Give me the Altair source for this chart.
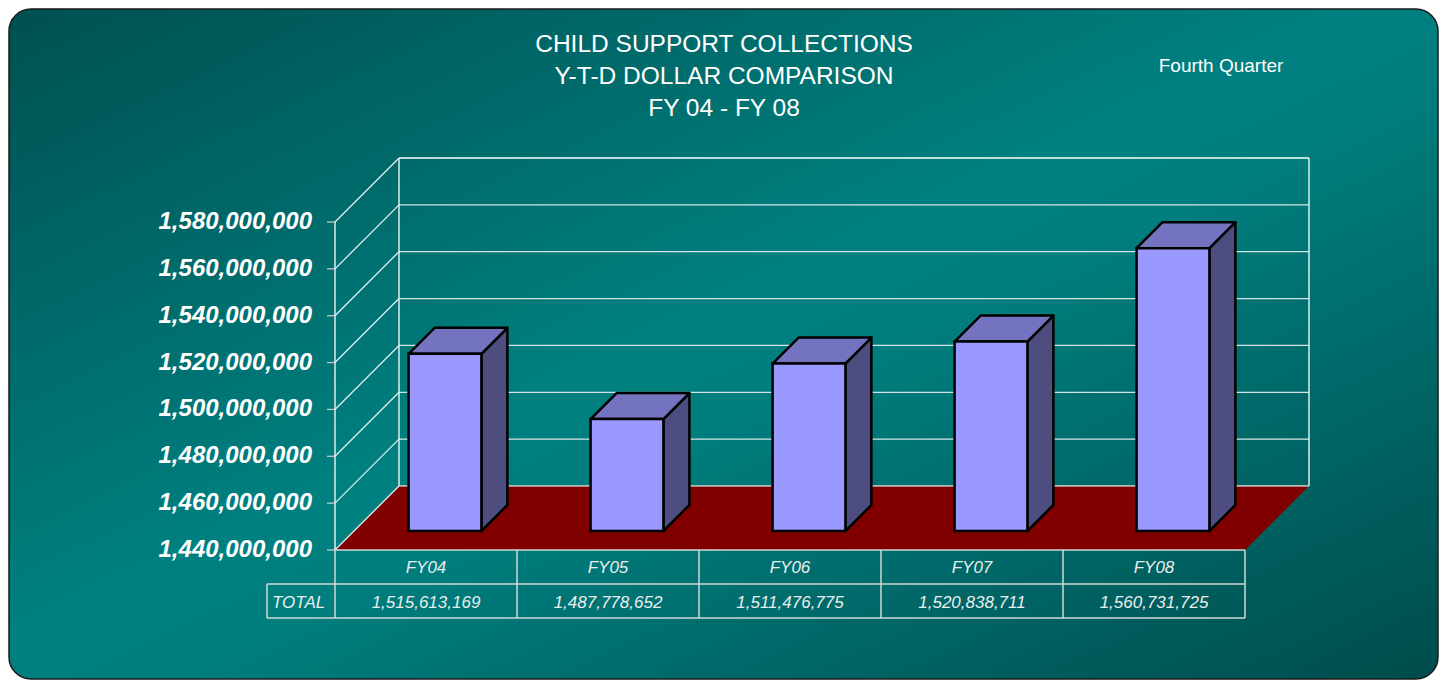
import altair as alt
import pandas as pd

# ---------------- data ----------------
categories = ["FY04", "FY05", "FY06", "FY07", "FY08"]
totals = [1515613169, 1487778652, 1511476775, 1520838711, 1560731725]
tick_values = [1440000000, 1460000000, 1480000000, 1500000000,
               1520000000, 1540000000, 1560000000, 1580000000]
title_lines = ["CHILD SUPPORT COLLECTIONS", "Y-T-D DOLLAR COMPARISON", "FY 04 - FY 08"]
subtitle = "Fourth Quarter"
row_label = "TOTAL"

# ---------------- layout ----------------
W, H = 1431, 672
AX_X = 327          # front-plane left edge (px)
COL_W = 182         # table column width (px)
BASE_Y = 542        # px of lowest tick
TOP_Y = 214         # px of highest tick
Y0, Y1 = tick_values[0], tick_values[-1]
PPD = (BASE_Y - TOP_Y) / (Y1 - Y0)     # px per dollar
DEPTH = 64
DX = DEPTH / COL_W
DY = DEPTH / PPD
BAR_W = 0.40
F0, F1 = 0.297, 0.703
ROW = 34 / PPD
LABEL_COL = 68 / COL_W
N = len(categories)

xs = alt.Scale(domain=[-AX_X / COL_W, (W - AX_X) / COL_W], nice=False, zero=False)
ys = alt.Scale(domain=[Y0 - (H - BASE_Y) / PPD, Y0 + BASE_Y / PPD], nice=False, zero=False)


def X(f):
    return alt.X(f, type="quantitative", scale=xs, axis=None, title=None)


def Y(f):
    return alt.Y(f, type="quantitative", scale=ys, axis=None, title=None, stack=None)


# ---------------- derived frames ----------------
front = pd.DataFrame({
    "cat": categories,
    "x0": [i + 0.5 - BAR_W / 2 + F0 * DX for i in range(N)],
    "x1": [i + 0.5 + BAR_W / 2 + F0 * DX for i in range(N)],
    "yb": [Y0 + F0 * DY] * N,
    "yt": [v + F0 * DY for v in totals],
})

side_rows, top_rows = [], []
for i, (c, v) in enumerate(zip(categories, totals)):
    for f in (F0, F1):
        side_rows.append({"cat": c, "x": i + 0.5 + BAR_W / 2 + f * DX,
                          "yb": Y0 + f * DY, "yt": v + f * DY})
        top_rows.append({"cat": c, "y": v + f * DY,
                         "xl": i + 0.5 - BAR_W / 2 + f * DX,
                         "xr": i + 0.5 + BAR_W / 2 + f * DX})
side = pd.DataFrame(side_rows)
top = pd.DataFrame(top_rows)

floor = pd.DataFrame({"y": [Y0, Y0 + DY], "xl": [0, DX], "xr": [N, N + DX]})


def segs(rows):
    return pd.DataFrame(rows, columns=["x", "y", "x2", "y2"])


back_grid = segs([(DX, v + DY, N + DX, v + DY) for v in tick_values[:-1]])
back_top = segs([(DX, Y1 + DY, N + DX, Y1 + DY)])
back_vert = segs([(DX, Y0 + DY, DX, Y1 + DY), (N + DX, Y0 + DY, N + DX, Y1 + DY)])
left_diag = segs([(0, v, DX, v + DY) for v in tick_values])
front_axis = segs([(0, Y0, 0, Y1)])
ticks = segs([(-8 / COL_W, v, 0, v) for v in tick_values])
table_lines = segs(
    [(0, Y0, N, Y0),
     (-LABEL_COL, Y0 - ROW, N, Y0 - ROW),
     (-LABEL_COL, Y0 - 2 * ROW, N, Y0 - 2 * ROW),
     (-LABEL_COL, Y0 - ROW, -LABEL_COL, Y0 - 2 * ROW)]
    + [(k, Y0, k, Y0 - 2 * ROW) for k in range(N + 1)]
)


def seg_layer(df, color, width):
    return alt.Chart(df).mark_rule(color=color, strokeWidth=width).encode(
        x=X("x"), y=Y("y"), x2=alt.X2("x2"), y2=alt.Y2("y2"))


one = pd.DataFrame({"a": [0]})

bg = alt.Chart(one).mark_rect(
    cornerRadius=22, stroke="#1a1a1a", strokeWidth=1.5,
    color=alt.LinearGradient(
        gradient="linear", x1=0, y1=0, x2=1, y2=1,
        stops=[alt.GradientStop(offset=0, color="#005050"),
               alt.GradientStop(offset=0.47, color="#008080"),
               alt.GradientStop(offset=0.55, color="#007e7e"),
               alt.GradientStop(offset=1, color="#004c4c")])
).encode(x=alt.value(1), x2=alt.value(W - 1), y=alt.value(1), y2=alt.value(H - 1))

floor_layer = alt.Chart(floor).mark_area(orient="horizontal", color="#800000").encode(
    y=Y("y"), x=X("xl"), x2=alt.X2("xr"))

side_layer = alt.Chart(side).mark_area(
    orient="vertical", color="#4d4d80", stroke="black", strokeWidth=2.5, strokeJoin="round"
).encode(x=X("x"), y=Y("yb"), y2=alt.Y2("yt"), detail="cat:N")

top_layer = alt.Chart(top).mark_area(
    orient="horizontal", color="#7373bf", stroke="black", strokeWidth=2.5, strokeJoin="round"
).encode(y=Y("y"), x=X("xl"), x2=alt.X2("xr"), detail="cat:N")

front_layer = alt.Chart(front).mark_rect(
    color="#9999ff", stroke="black", strokeWidth=2.5
).encode(x=X("x0"), x2=alt.X2("x1"), y=Y("yb"), y2=alt.Y2("yt"))

ylab = pd.DataFrame({"v": tick_values, "t": [f"{v:,}" for v in tick_values]})
ylab_layer = alt.Chart(ylab).mark_text(
    align="right", baseline="middle", font="Liberation Sans", fontSize=24,
    fontWeight="bold", fontStyle="italic", color="white"
).encode(x=alt.value(AX_X - 23), y=Y("v"), text="t:N")

table_font = "Liberation Sans"
cats = pd.DataFrame({"xc": [i + 0.5 for i in range(N)], "cat": categories,
                     "tot": [f"{v:,}" for v in totals]})
cat_layer = alt.Chart(cats).mark_text(
    font=table_font, fontSize=17, fontStyle="italic", color="#e8eeee", baseline="middle"
).encode(x=X("xc"), y=alt.value(BASE_Y + 18), text="cat:N")
tot_layer = alt.Chart(cats).mark_text(
    font=table_font, fontSize=17, fontStyle="italic", color="#e8eeee", baseline="middle"
).encode(x=X("xc"), y=alt.value(BASE_Y + 53), text="tot:N")
rowlab_layer = alt.Chart(one).mark_text(
    text=row_label, font=table_font, fontSize=17, fontStyle="italic", color="#e8eeee",
    align="left", baseline="middle"
).encode(x=alt.value(AX_X - 63), y=alt.value(BASE_Y + 53))

title_layers = [
    alt.Chart(one).mark_text(text=t, font="Liberation Sans", fontSize=24.5, color="white",
                             align="center", baseline="middle")
    .encode(x=alt.value(716), y=alt.value(37 + 32 * k))
    for k, t in enumerate(title_lines)
]
sub_layer = alt.Chart(one).mark_text(
    text=subtitle, font="Liberation Sans", fontSize=19, color="white",
    align="center", baseline="middle").encode(x=alt.value(1213), y=alt.value(58))

chart = alt.layer(
    bg,
    seg_layer(back_grid, "#d4e4e4", 1.3),
    seg_layer(back_top, "#ffffff", 1.3),
    seg_layer(back_vert, "#ffffff", 1.3),
    floor_layer,
    seg_layer(back_grid[back_grid["y"] == Y0 + DY], "#b8b8b8", 1.5),
    seg_layer(left_diag, "#e4f0f0", 1.3),
    seg_layer(front_axis, "#ffffff", 1.3),
    seg_layer(ticks, "#c8c8c8", 1.3),
    seg_layer(table_lines, "#cfd8d8", 1.5),
    side_layer,
    top_layer,
    front_layer,
    ylab_layer,
    cat_layer,
    tot_layer,
    rowlab_layer,
    *title_layers,
    sub_layer,
).properties(
    width=W, height=H,
    autosize=alt.AutoSizeParams(type="none"),
    padding=0,
    background="white",
).configure_view(stroke=None)

chart.save("out.html", embed_options={"renderer": "svg", "actions": False})
